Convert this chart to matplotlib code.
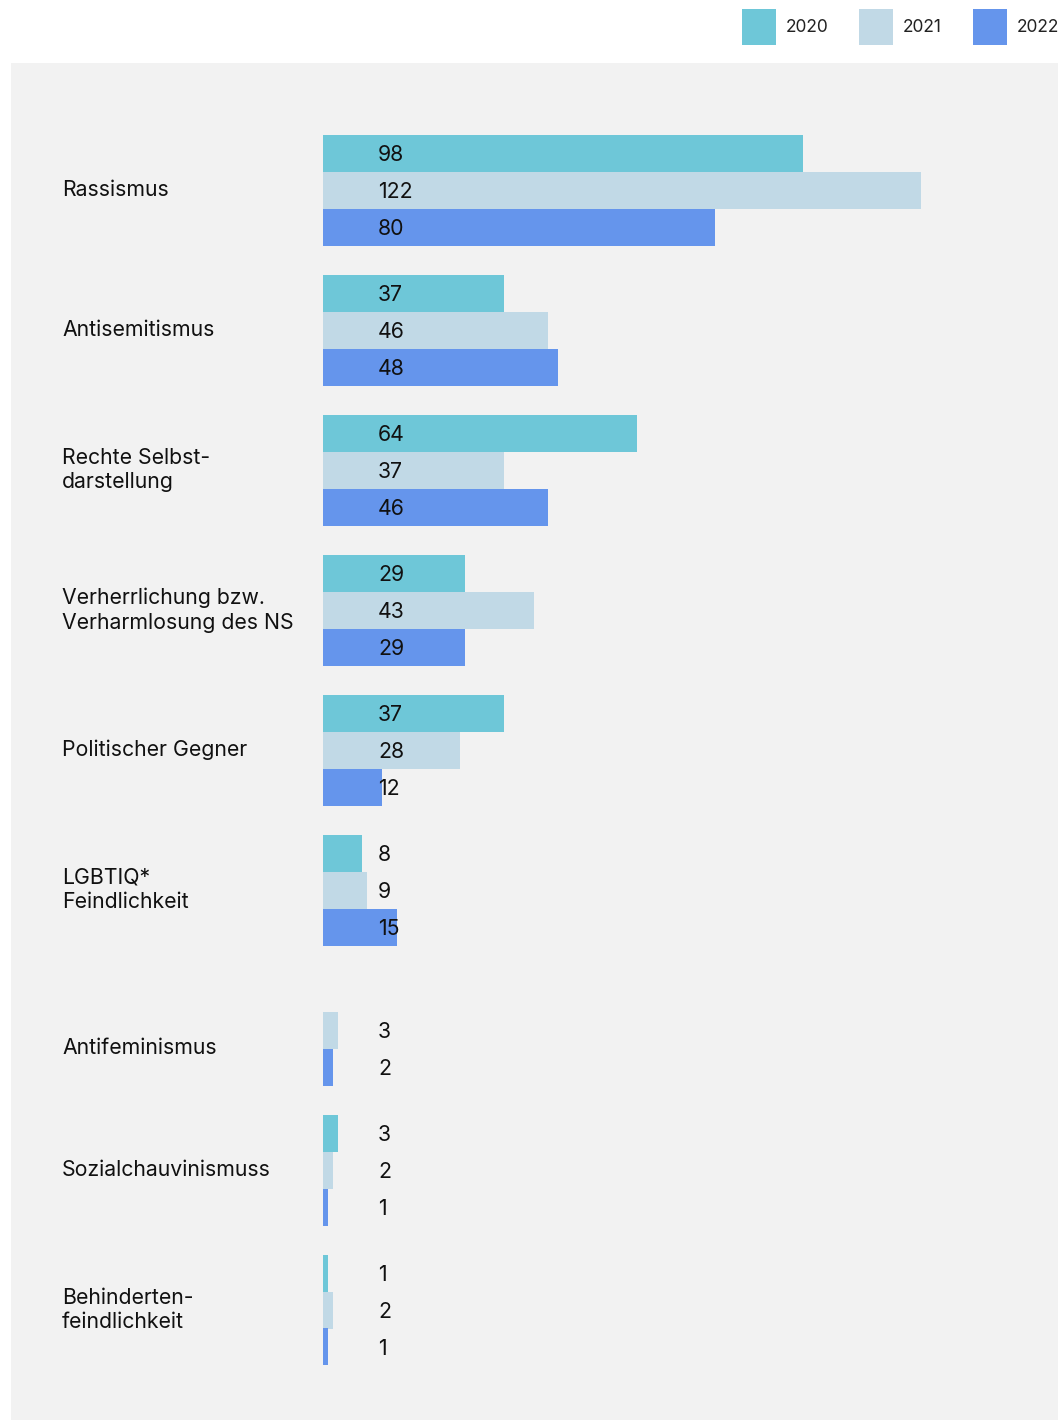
import numpy as np
import matplotlib
matplotlib.use("Agg")
import matplotlib.pyplot as plt
from matplotlib.patches import Patch

plt.rcParams['font.family'] = ['Inter', 'DejaVu Sans']

# data
categories = ["Rassismus", "Antisemitismus", "Rechte Selbst-\ndarstellung",
              "Verherrlichung bzw.\nVerharmlosung des NS", "Politischer Gegner",
              "LGBTIQ*\nFeindlichkeit", "Antifeminismus", "Sozialchauvinismuss",
              "Behinderten-\nfeindlichkeit"]
years = ["2020", "2021", "2022"]
v2020 = [98, 37, 64, 29, 37, 8, np.nan, 3, 1]
v2021 = [122, 46, 37, 43, 28, 9, 3, 2, 2]
v2022 = [80, 48, 46, 29, 12, 15, 2, 1, 1]
colors = ["#6EC7D8", "#C1D9E6", "#6595EC"]

W, H = 1061, 1420
fig = plt.figure(figsize=(W / 100, H / 100), dpi=100)

# grey panel = axes area (pixel layout of the original)
pl, pr, pt, pb = 11, 1058, 63, 1420
ax = fig.add_axes([pl / W, 1 - pb / H, (pr - pl) / W, (pb - pt) / H])
ax.set_facecolor("#F2F2F2")
for s in ax.spines.values():
    s.set_visible(False)
ax.set_xticks([])
ax.set_yticks([])

px_unit = 4.9          # pixels per value unit
zero_px = 312          # bar base, px from panel left
ax.set_xlim(-zero_px / px_unit, (pr - pl - zero_px) / px_unit)

gap = 140.0            # px between group centres
first = 127.0          # px from panel top to first group centre
ax.set_ylim((pb - pt - first) / gap, -first / gap)
bh = 37.0 / gap

ypos = np.arange(len(categories))
series = [v2020, v2021, v2022]
for k, (vals, col, yr) in enumerate(zip(series, colors, years)):
    vals = np.array(vals, dtype=float)
    yy = ypos + (k - 1) * bh
    ok = ~np.isnan(vals)
    ax.barh(yy[ok], vals[ok], height=bh, color=col, label=yr)
    for y, v in zip(yy[ok], vals[ok]):
        ax.text(0.3505, y, f"{int(v)}", transform=ax.get_yaxis_transform(),
                ha="left", va="center_baseline", fontsize=15.3, color="#111111")

for i, cat in enumerate(categories):
    offs = [(k - 1) * bh for k, vals in enumerate(series) if not np.isnan(vals[i])]
    ax.text(0.0487, i + np.mean(offs), cat, transform=ax.get_yaxis_transform(),
            ha="left", va="center", fontsize=15.3, color="#111111", linespacing=1.3)

handles = [Patch(facecolor=c, edgecolor="none") for c in colors]
fig.legend(handles, years, loc="upper left", bbox_to_anchor=(742 / W, 1 - 9 / H),
           ncol=3, frameon=False, fontsize=12.5, borderpad=0, borderaxespad=0,
           handlelength=1.95, handleheight=2.8, handletextpad=0.55,
           columnspacing=1.8, labelcolor="#222222")

fig.savefig("out.png", dpi=100)
